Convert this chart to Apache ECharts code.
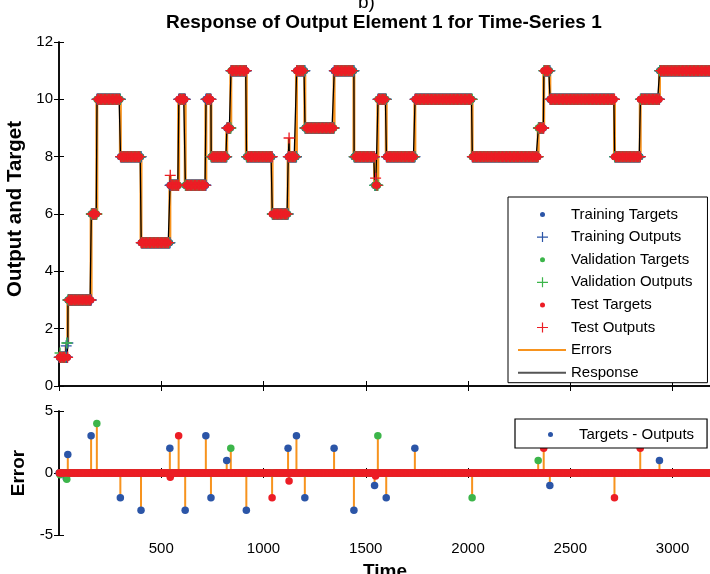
<!DOCTYPE html>
<html><head><meta charset="utf-8">
<script src="https://cdn.jsdelivr.net/npm/echarts@6/dist/echarts.min.js"></script>
<style>html,body{margin:0;padding:0;background:#fff}#c{width:710px;height:574px}</style>
</head><body><div id="c"></div>
<script>
// ---- data ----
const timeSteps = 3188;
// piecewise-constant targets: start time of each level and its value
const levelStart = [1, 43, 157, 185, 300, 401, 542, 585, 617, 718, 743, 820, 840, 916, 1042, 1120, 1161, 1202, 1345, 1442, 1543, 1559, 1600, 1740, 2020, 2343, 2370, 2400, 2716, 2842, 2936];
const levelValue = [1, 3, 6, 10, 8, 5, 7, 10, 7, 10, 8, 9, 11, 8, 6, 8, 11, 9, 11, 8, 7, 10, 8, 10, 8, 9, 11, 10, 8, 10, 11];
// non-zero errors (targets - outputs)
const errorTime = [5, 35, 38, 43, 157, 185, 300, 401, 542, 544, 585, 617, 718, 743, 820, 840, 916, 1042, 1120, 1125, 1161, 1202, 1345, 1442, 1543, 1548, 1559, 1600, 1740, 2020, 2343, 2370, 2400, 2716, 2842, 2936];
const errorValue = [-0.15, -0.4, -0.5, 1.5, 3, 4, -2, -3, 2, -0.35, 3, -3, 3, -2, 1, 2, -3, -2, 2, -0.65, 3, -2, 2, -3, -1, -0.25, 3, -2, 2, -2, 1, 2, -1, -2, 2, 1];
const errorSubset = ['val','train','val','train','train','val','train','train','train','test','test','train','train','train','train','val','train','test','train','test','train','train','train','train','train','test','val','train','train','val','val','test','train','test','test','train'];
// repeating assignment of time steps to training / validation / test subsets
const subsetPattern = ['train','train','test','train','val','train','train','train','test','train','train','val','train','train','train','test','train','train','val','train'];
const yTicksUpper = [0, 2, 4, 6, 8, 10, 12];
const yTicksLower = [-5, 0, 5];
const xTickStep = 500;

// ---- build series data ----
const FONT = '"Liberation Sans", Arial, Helvetica, sans-serif';
const COL = {train: '#2b55a7', val: '#3cb54a', test: '#ec1d25', err: '#f7931e'};
function targetAt(t) {
  let v = levelValue[0];
  for (let i = 0; i < levelStart.length; i++) { if (t >= levelStart[i]) v = levelValue[i]; else break; }
  return v;
}
const errIndex = new Map();
errorTime.forEach((t, i) => errIndex.set(t, i));
const up = {train: {tg: [], out: []}, val: {tg: [], out: []}, test: {tg: [], out: []}};
const low = {train: [], val: [], test: []};
const response = [];
for (let t = 1; t <= timeSteps; t++) {
  const tg = targetAt(t);
  const ei = errIndex.get(t);
  const e = ei === undefined ? 0 : errorValue[ei];
  const sub = ei === undefined ? subsetPattern[t % subsetPattern.length] : errorSubset[ei];
  const out = tg - e;
  up[sub].tg.push([t, tg]);
  up[sub].out.push([t, out]);
  low[sub].push([t, e]);
  response.push([t, out]);
}
const errUpper = [], errLower = [];
errorTime.forEach((t, i) => {
  const tg = targetAt(t);
  errUpper.push([t, tg], [t, tg - errorValue[i]], [t, '-']);
  errLower.push([t, 0], [t, errorValue[i]], [t, '-']);
});

const plusSym = 'path://M4.4,0h1.2v4.4h4.4v1.2h-4.4v4.4h-1.2v-4.4h-4.4v-1.2h4.4z';
const iconDot = 'path://M0,0L0,0M48,12L48,12M22,6a2.5,2.5 0 1,0 5,0a2.5,2.5 0 1,0 -5,0z';
const iconPlus = 'path://M0,0L0,0M48,12L48,12M19,5.4h11v1.2h-11zM23.9,1h1.2v10h-1.2z';
const iconLine = 'path://M0,0L0,0M48,12L48,12M0,5h48v2h-48z';

const axisLineStyle = {show: true, lineStyle: {color: '#000', width: 1.5}};
const tickIn = {show: true, inside: true, length: 5, lineStyle: {color: '#000', width: 1}};
function xAx(grid, pos, labels) {
  return {
    type: 'value', gridIndex: grid, position: pos, min: 0, max: timeSteps, interval: xTickStep,
    axisLine: axisLineStyle, axisTick: tickIn, splitLine: {show: false},
    axisLabel: labels ? {show: true, fontSize: 15, color: '#000', fontFamily: FONT, margin: 6,
      formatter: v => (v > 0 && v % xTickStep === 0) ? String(v) : ''} : {show: false},
    name: labels ? 'Time' : '', nameLocation: 'middle', nameGap: 27,
    nameTextStyle: {fontSize: 19, fontWeight: 'bold', color: '#000', fontFamily: FONT}
  };
}
function yAx(grid, pos, ticks, name, gap, nameStyle) {
  const left = pos === 'left';
  return {
    type: 'value', gridIndex: grid, position: pos, min: ticks[0], max: ticks[ticks.length - 1],
    interval: ticks[1] - ticks[0],
    axisLine: axisLineStyle, axisTick: tickIn, splitLine: {show: false},
    axisLabel: left ? {show: true, fontSize: 15, color: '#000', fontFamily: FONT, margin: 6} : {show: false},
    name: left ? name : '', nameLocation: 'middle', nameGap: gap,
    nameTextStyle: Object.assign({fontSize: 19, fontWeight: 'bold', color: '#000', fontFamily: FONT}, nameStyle || {})
  };
}
function scat(name, data, color, sym, size, g) {
  return {type: 'scatter', name, data, xAxisIndex: g, yAxisIndex: g, symbol: sym, symbolSize: size, z: 3,
    symbolKeepAspect: true, itemStyle: {color, opacity: 1}, large: false, progressive: 0, silent: true};
}

const option = {
  animation: false,
  backgroundColor: '#fff',
  title: [
    {text: 'Response of Output Element 1 for Time-Series 1', left: 161, top: 8,
      textStyle: {fontSize: 19, fontWeight: 'bold', color: '#000', fontFamily: FONT}},
    {text: 'b)', left: 353, top: -12,
      textStyle: {fontSize: 19, fontWeight: 'normal', color: '#000', fontFamily: FONT}}
  ],
  grid: [
    {left: 59, top: 42, width: 652, height: 344, containLabel: false, outerBoundsMode: 'none'},
    {left: 59, top: 411, width: 652, height: 124, containLabel: false, outerBoundsMode: 'none'}
  ],
  xAxis: [xAx(0, 'bottom', false), xAx(0, 'top', false), xAx(1, 'bottom', true), xAx(1, 'top', false)],
  yAxis: [yAx(0, 'left', yTicksUpper, 'Output and Target', 28, {fontSize: 20.5, padding: [0, 0, 0, 10]}),
          yAx(0, 'right', yTicksUpper, '', 0),
          yAx(1, 'left', yTicksLower, 'Error', 25), yAx(1, 'right', yTicksLower, '', 0)],
  legend: [
    {orient: 'vertical', left: 508, top: 197, padding: [9.5, 15, 2, 10], itemWidth: 48, itemHeight: 12, itemGap: 6.6,
      backgroundColor: '#fff', borderColor: '#000', borderWidth: 1, selectedMode: false,
      itemStyle: {borderWidth: 0},
      textStyle: {fontSize: 15, color: '#000', fontFamily: FONT, lineHeight: 16},
      data: [
        {name: 'Training Targets', icon: iconDot},
        {name: 'Training Outputs', icon: iconPlus},
        {name: 'Validation Targets', icon: iconDot},
        {name: 'Validation Outputs', icon: iconPlus},
        {name: 'Test Targets', icon: iconDot},
        {name: 'Test Outputs', icon: iconPlus},
        {name: 'Errors', icon: iconLine},
        {name: 'Response', icon: iconLine, itemStyle: {color: '#555'}}
      ]},
    {orient: 'vertical', left: 515, top: 419, padding: [7, 13, 5, 11], itemWidth: 48, itemHeight: 12,
      backgroundColor: '#fff', borderColor: '#000', borderWidth: 1.2, selectedMode: false,
      itemStyle: {borderWidth: 0},
      textStyle: {fontSize: 15, color: '#000', fontFamily: FONT, lineHeight: 17},
      data: [{name: 'Targets - Outputs', icon: iconDot}]}
  ],
  series: [
    {type: 'line', name: 'Errors', data: errUpper, xAxisIndex: 0, yAxisIndex: 0, symbol: 'none', connectNulls: false, z: 1,
      lineStyle: {color: COL.err, width: 3}, itemStyle: {color: COL.err}, silent: true},
    {type: 'line', name: 'Response', data: response, xAxisIndex: 0, yAxisIndex: 0, symbol: 'none', z: 1,
      lineStyle: {color: '#000', width: 1.3}, itemStyle: {color: '#000'}, progressive: 0, silent: true},
    scat('Training Targets', up.train.tg, COL.train, 'circle', 7, 0),
    scat('Training Outputs', up.train.out, COL.train, plusSym, 11, 0),
    scat('Validation Targets', up.val.tg, COL.val, 'circle', 7, 0),
    scat('Validation Outputs', up.val.out, COL.val, plusSym, 11, 0),
    scat('Test Targets', up.test.tg, COL.test, 'circle', 7, 0),
    scat('Test Outputs', up.test.out, COL.test, plusSym, 11, 0),
    {type: 'line', name: 'Error stems', data: errLower, xAxisIndex: 2, yAxisIndex: 2, symbol: 'none', connectNulls: false, z: 1,
      lineStyle: {color: COL.err, width: 2}, silent: true},
    scat('Targets - Outputs', low.train, COL.train, 'circle', 7.5, 2),
    scat('Validation errors', low.val, COL.val, 'circle', 7.5, 2),
    scat('Test errors', low.test, COL.test, 'circle', 7.5, 2)
  ]
};
const chart = echarts.init(document.getElementById('c'), null, {renderer: 'canvas'});
chart.setOption(option);
</script>
</body></html>
